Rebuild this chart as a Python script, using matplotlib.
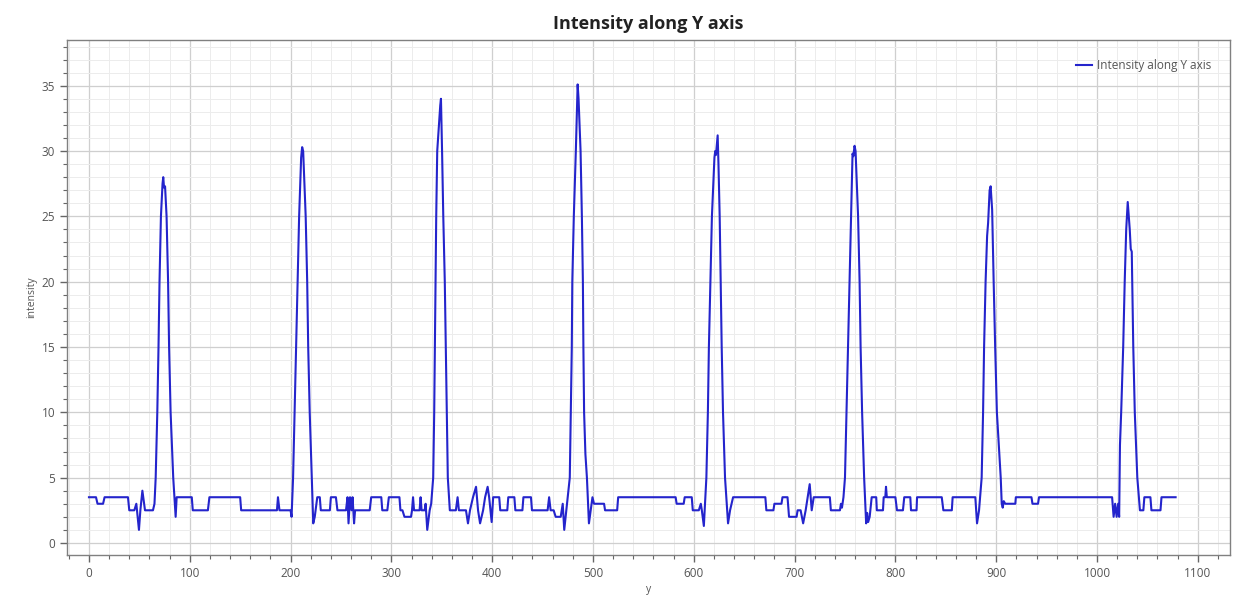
import matplotlib
matplotlib.use("Agg")
import matplotlib.pyplot as plt
from matplotlib.ticker import MultipleLocator

# positions along y (pixels) and intensity
pos = [
    0, 7, 8.5, 14, 15.5, 38.7, 40, 45, 47, 49.6, 51, 53, 55.6, 63.5,
    65, 66.2, 67.8, 69, 70, 71.4, 73, 73.7, 74.5, 75.5, 77, 78.5, 79.5, 81, 83.6, 86, 87,
    102, 103, 118, 119.5, 150, 151, 186.5, 187.5, 189, 200, 201,
    202.5, 204, 205.5, 207, 208.5, 210.5, 211.5, 212.5, 214, 215, 216.5, 217.5, 219, 221, 222.5,
    224, 226.5, 229, 230, 239, 240, 245, 246.5, 255, 256.5, 257.5, 259, 260.5, 261.5, 263, 264,
    278.5, 280, 290, 291, 296, 297.5, 308, 309, 311, 313, 319.5, 320.5, 321.5, 322.5, 328, 329,
    330, 333, 334, 335.6, 338,
    339.5, 341.5, 342.5, 343.2, 343.8, 344.5, 345.5, 348.5, 349.2, 350.3, 351.5, 353, 354, 355, 356, 358,
    364, 365.7, 367, 374, 376, 378, 381, 384, 386, 388, 391, 393, 395.5, 397, 399.5, 401, 407, 408,
    415, 416, 422, 423, 430, 431, 438.5, 439.5, 455, 456.5, 458, 461, 463, 468, 470, 471.5,
    475, 477, 478, 479, 479.5, 481, 483, 484.8, 485.7, 487.7, 489, 490, 490.5, 491.2, 492.5, 494, 496, 499.5,
    501, 511, 512, 524, 525, 582, 583, 590, 591, 598, 599, 605, 607, 608, 610,
    612.5, 614, 615, 616.5, 618, 620.5, 621.3, 622, 623.7, 624.5, 625.7, 626.7, 627.7, 629, 631, 634, 636, 637.5, 639,
    671, 672, 679, 680, 687, 688, 693, 694.5, 702, 703, 706, 708.5, 711, 715, 717, 719, 735, 736, 745, 746, 747, 748.5,
    750, 751.5, 753, 754.5, 756, 757.5, 758.3, 759.5, 760.5, 762, 763, 764.5, 765.5, 767, 769, 771, 772, 773, 774.5, 776.5,
    781, 781.6, 787.7, 788.4, 790, 790.7, 791.5, 800, 801.6, 807.5, 808.8, 814.8, 815.5, 821, 821.5, 846, 847.6,
    856, 856.8, 879.3, 881, 883,
    885.6, 887, 888, 889.5, 891, 892, 893.5, 894.5, 896, 897.5, 899, 900.7, 903, 904.5, 905.5, 906.5, 907.5, 909,
    919, 919.5, 935, 936, 941.5, 942.5, 1015, 1016.5, 1018, 1019.5, 1021, 1022,
    1022.8, 1024, 1026, 1027.5, 1029, 1030.5, 1031.5, 1032.5, 1033.5, 1034.5, 1036, 1037.5, 1040, 1042.6,
    1046, 1047, 1053, 1054, 1063, 1064, 1078,
]
intensity = [
    3.5, 3.5, 3.0, 3.0, 3.5, 3.5, 2.5, 2.5, 3.0, 1.0, 2.5, 4.0, 2.5, 2.5,
    3.0, 5, 10, 15, 20, 25, 27.5, 28.0, 27.2, 27.3, 25, 20, 15, 10, 5, 2.0, 3.5,
    3.5, 2.5, 2.5, 3.5, 3.5, 2.5, 2.5, 3.5, 2.5, 2.5, 2.0,
    5, 10, 15, 20, 25, 29.5, 30.3, 30.0, 27, 25, 20, 15, 10, 5, 1.5,
    2.0, 3.5, 3.5, 2.5, 2.5, 3.5, 3.5, 2.5, 2.5, 3.5, 1.5, 3.5, 2.5, 3.5, 1.5, 2.5,
    2.5, 3.5, 3.5, 2.5, 2.5, 3.5, 3.5, 2.5, 2.5, 2.0, 2.0, 2.5, 3.5, 2.5, 2.5, 3.5,
    2.5, 2.5, 3.0, 1.0, 2.5,
    3.0, 5, 10, 15, 20, 25, 30, 33.5, 34.0, 30, 25, 20, 15, 10, 5, 2.5,
    2.5, 3.5, 2.5, 2.5, 1.5, 2.5, 3.5, 4.3, 2.5, 1.5, 2.5, 3.5, 4.3, 3.5, 1.6, 3.5, 3.5, 2.5,
    2.5, 3.5, 3.5, 2.5, 2.5, 3.5, 3.5, 2.5, 2.5, 3.5, 2.5, 2.5, 2.0, 2.0, 3.0, 1.0,
    3.5, 5, 10, 15, 20, 25, 30, 35.1, 34, 30, 25, 20, 15, 10, 6.8, 5, 1.5, 3.5,
    3.0, 3.0, 2.5, 2.5, 3.5, 3.5, 3.0, 3.0, 3.5, 3.5, 2.5, 2.5, 3.0, 2.5, 1.3,
    5, 10, 15, 20, 25, 29.5, 30, 29.7, 31.2, 29, 25, 20, 15, 10, 5, 1.5, 2.5, 3.0, 3.5,
    3.5, 2.5, 2.5, 3.0, 3.0, 3.5, 3.5, 2.0, 2.0, 2.5, 2.5, 1.5, 2.5, 4.5, 2.5, 3.5, 3.5, 2.5, 2.5, 3.0, 2.7, 3.5,
    5, 10, 15, 20, 25, 29.8, 29.6, 30.4, 30.0, 27, 25, 20, 15, 10, 5, 1.5, 2.3, 1.6, 2.0, 3.5,
    3.5, 2.5, 2.5, 3.5, 3.5, 4.3, 3.5, 3.5, 2.5, 2.5, 3.5, 3.5, 2.5, 2.5, 3.5, 3.5, 2.5,
    2.5, 3.5, 3.5, 1.5, 2.5,
    5, 10, 15, 20, 23.5, 24.5, 27, 27.3, 25.5, 20, 15, 10, 6.9, 5, 3.0, 2.7, 3.2, 3.0,
    3.0, 3.5, 3.5, 3.0, 3.0, 3.5, 3.5, 2.0, 3.0, 2.0, 3.0, 2.0,
    7.5, 10, 15, 20, 24, 26.1, 25, 24, 22.5, 22.3, 15, 10, 5, 2.5,
    2.5, 3.5, 3.5, 2.5, 2.5, 3.5, 3.5,
]

plt.rcParams['font.family'] = ['Open Sans', 'DejaVu Sans']

fig = plt.figure(figsize=(12.59, 5.97), dpi=100)
ax = fig.add_axes([0.0532, 0.0704, 0.9238, 0.8626])

ax.plot(pos, intensity, color='#2424cc', linewidth=1.5, label='Intensity along Y axis')

ax.set_xlim(-21.8, 1132)
ax.set_ylim(-0.92, 38.5)

ax.xaxis.set_major_locator(MultipleLocator(100))
ax.xaxis.set_minor_locator(MultipleLocator(20))
ax.yaxis.set_major_locator(MultipleLocator(5))
ax.yaxis.set_minor_locator(MultipleLocator(1))

ax.grid(True, which='major', color='#cfcfcf', linewidth=0.9)
ax.grid(True, which='minor', color='#ececec', linewidth=0.7)
ax.set_axisbelow(True)

ax.tick_params(which='major', direction='out', length=5, width=1, color='#666666',
               labelsize=8.5, labelcolor='#555555')
ax.tick_params(which='minor', direction='out', length=3, width=0.8, color='#666666')
for s in ax.spines.values():
    s.set_color('#808080')
    s.set_linewidth(1.0)

ax.set_title('Intensity along Y axis', fontsize=13, fontweight='bold', color='#222222', pad=8)
ax.set_xlabel('y', fontsize=7.5, color='#555555', labelpad=3)
ax.set_ylabel('intensity', fontsize=7.5, color='#555555', labelpad=3)

ax.legend(loc='upper right', frameon=False, fontsize=8.5, labelcolor='#555555',
          handlelength=1.4, handletextpad=0.4, borderaxespad=1.2)

fig.savefig('out.png', dpi=100)
